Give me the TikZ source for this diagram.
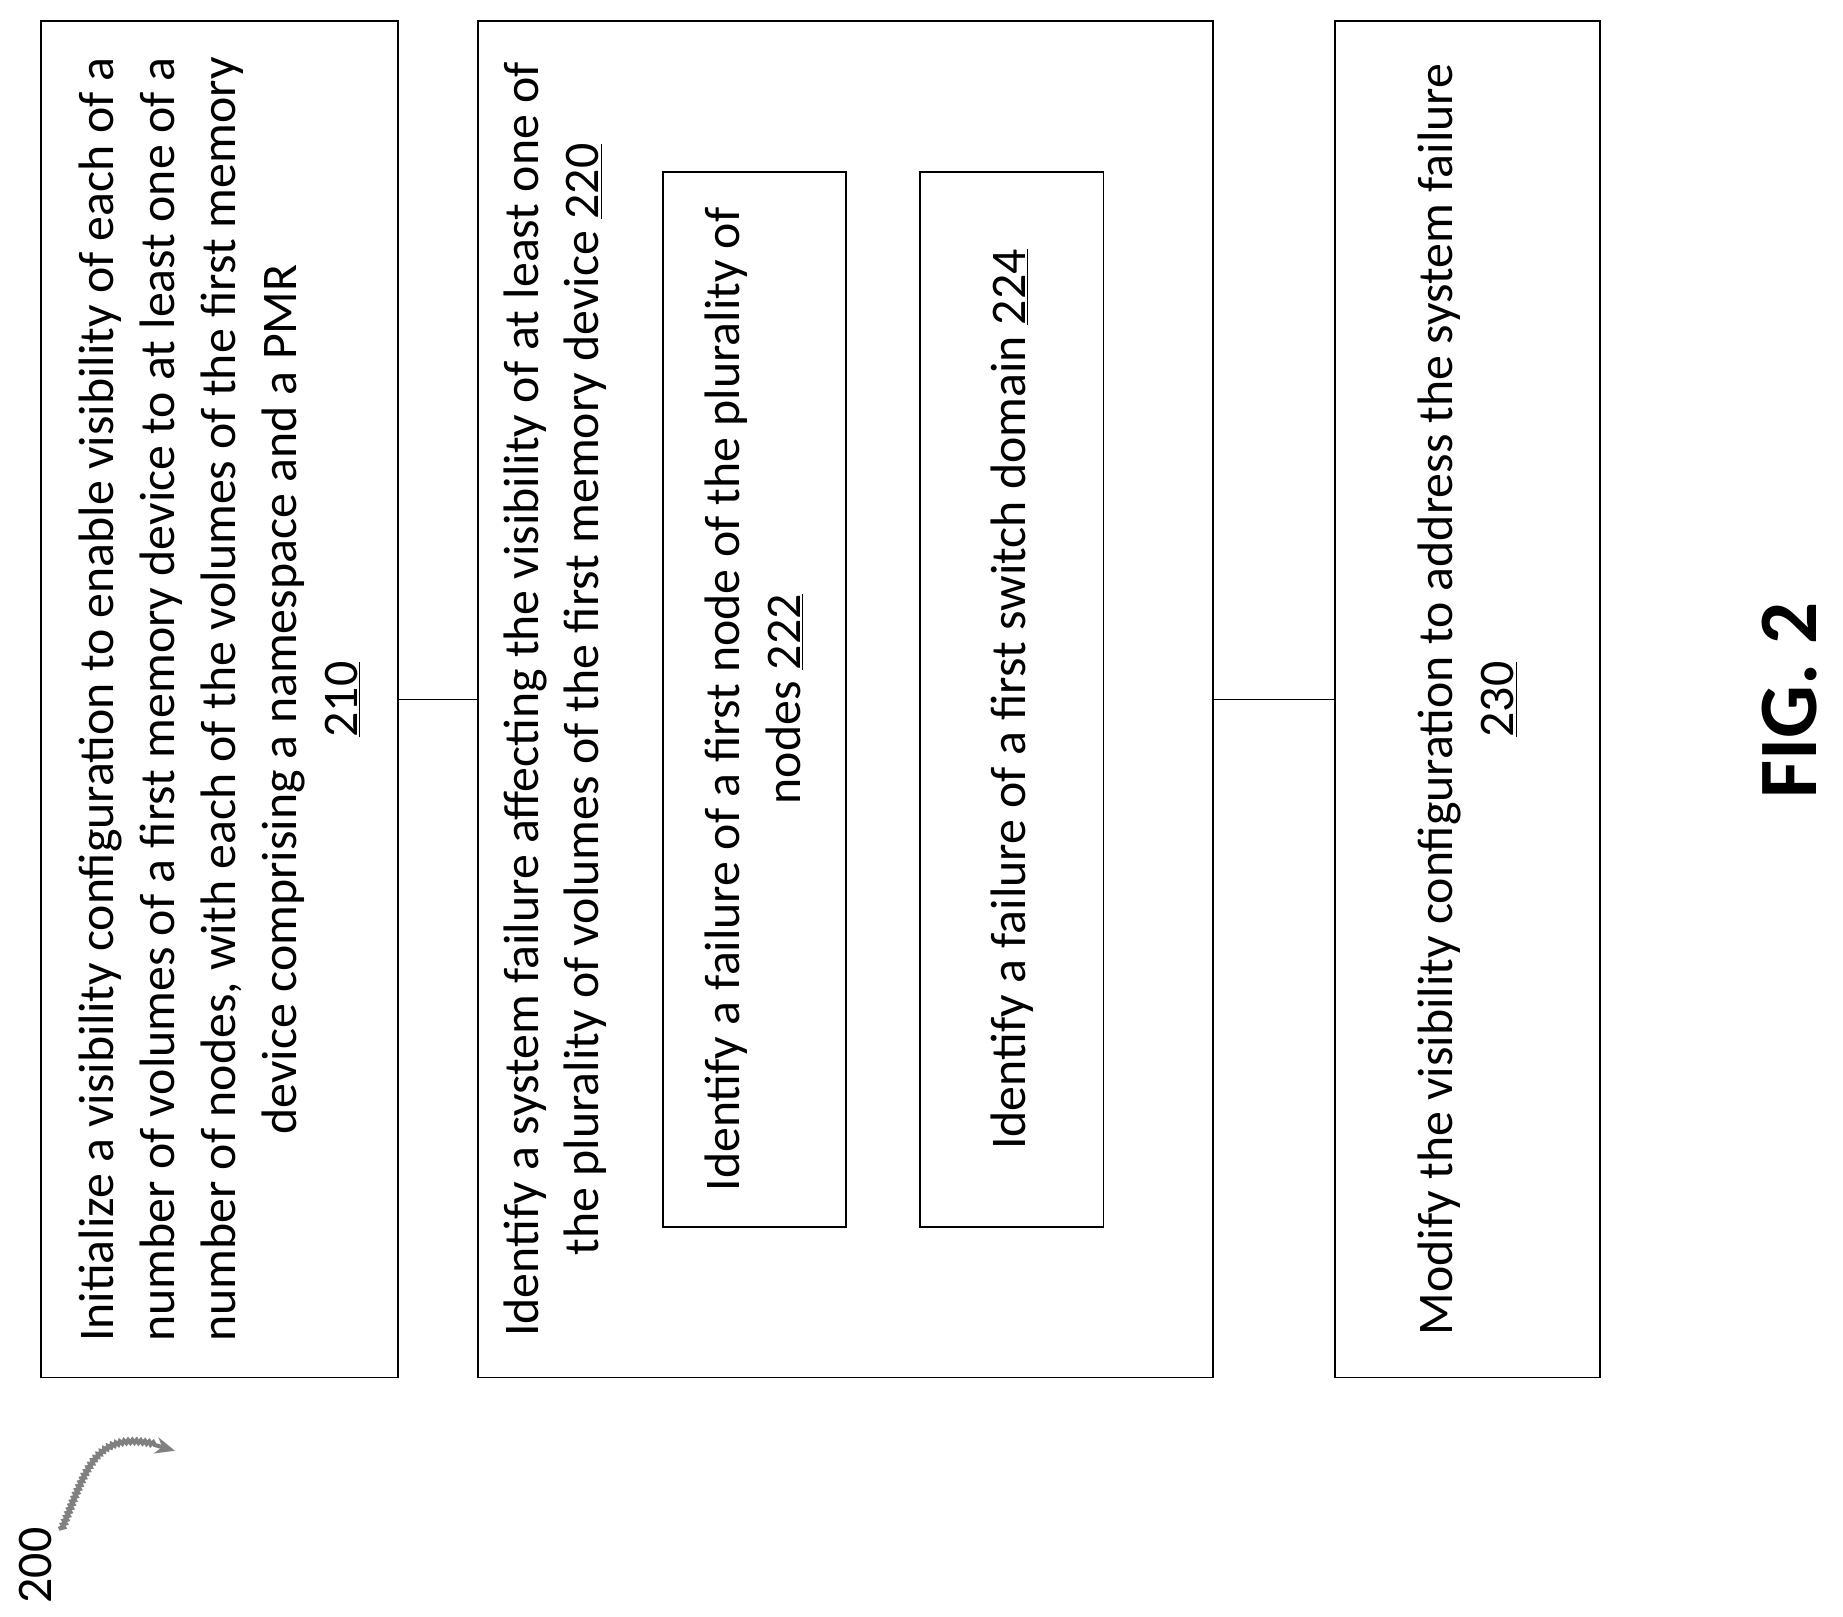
\documentclass[tikz,border=0pt]{standalone}
\usepackage{fontspec}
\setmainfont{Carlito}
\usetikzlibrary{decorations.pathmorphing,arrows.meta}

\begin{document}
\begin{tikzpicture}[x=0.03cm,y=-0.03cm,
  stepbox/.style={draw,line width=1.3pt,rotate=90,inner sep=0pt},
  steptext/.style={rotate=90,align=center,font=\fontsize{36}{44}\selectfont}]
  \useasboundingbox (0,0) rectangle (1560,1368);
  % outer boxes
  \node[stepbox,minimum width=34.44cm,minimum height=9.06cm] (b210) at (186,592) {};
  \node[stepbox,minimum width=34.44cm,minimum height=18.66cm] (b220) at (715.5,592) {};
  \node[stepbox,minimum width=34.44cm,minimum height=6.72cm] (b230) at (1242,592) {};
  % inner boxes
  \node[stepbox,minimum width=26.79cm,minimum height=4.65cm] (b222) at (638.5,592) {};
  \node[stepbox,minimum width=26.79cm,minimum height=4.65cm] (b224) at (856.5,592) {};
  % texts
  \node[steptext] (t210) at (b210) {Initialize a visibility configuration to enable visibility of each of a\\
    number of volumes of a first memory device to at least one of a\\
    number of nodes, with each of the volumes of the first memory\\
    device comprising a namespace and a PMR\\ \underline{210}};
  \node[steptext,anchor=north] (t220) at (422,592) {Identify a system failure affecting the visibility of at least one of\\
    the plurality of volumes of the first memory device \underline{220}};
  \node[steptext] (t222) at (b222) {Identify a failure of a first node of the plurality of\\ nodes \underline{222}};
  \node[steptext] (t224) at (b224) {Identify a failure of a first switch domain \underline{224}};
  \node[steptext] (t230) at (b230) {Modify the visibility configuration to address the system failure\\ \underline{230}};
  % connectors
  \draw[line width=1.3pt] (b210.south) -- (b220.north);
  \draw[line width=1.3pt] (b220.south) -- (b230.north);
  % labels
  \node[steptext] (fig) at (1515,593) {\fontsize{60}{70}\selectfont\bfseries FIG. 2};
  \node[steptext] (l200) at (30,1325) {200};
  \coordinate (s0) at (52,1295);
  \coordinate (s1) at (148,1228);
  \draw[gray,line width=3pt,decorate,decoration={snake,amplitude=1pt,segment length=3pt,post length=14pt},-{Stealth[length=14pt,width=12pt]}]
    (s0) .. controls (75,1240) and (80,1205) .. (s1);
\end{tikzpicture}
\end{document}
